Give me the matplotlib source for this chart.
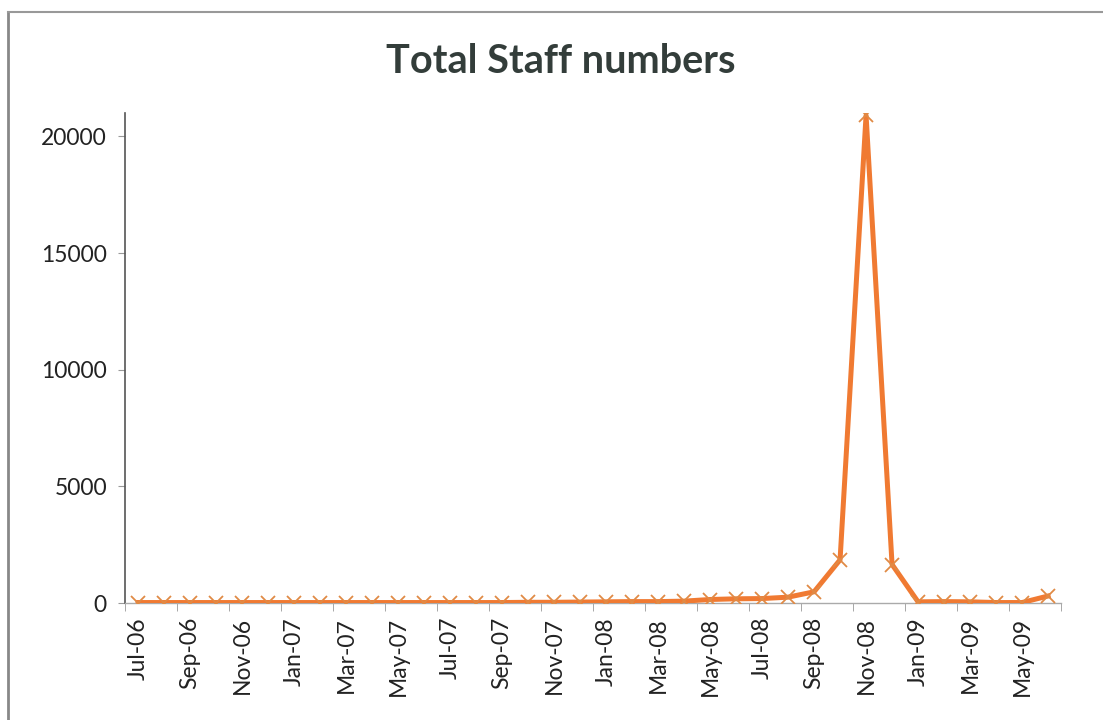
import numpy as np
import matplotlib
matplotlib.use("Agg")
import matplotlib.pyplot as plt
from matplotlib.lines import Line2D

plt.rcParams['font.family'] = ['Lato', 'DejaVu Sans']

months = ['Jul-06', 'Aug-06', 'Sep-06', 'Oct-06', 'Nov-06', 'Dec-06',
          'Jan-07', 'Feb-07', 'Mar-07', 'Apr-07', 'May-07', 'Jun-07',
          'Jul-07', 'Aug-07', 'Sep-07', 'Oct-07', 'Nov-07', 'Dec-07',
          'Jan-08', 'Feb-08', 'Mar-08', 'Apr-08', 'May-08', 'Jun-08',
          'Jul-08', 'Aug-08', 'Sep-08', 'Oct-08', 'Nov-08', 'Dec-08',
          'Jan-09', 'Feb-09', 'Mar-09', 'Apr-09', 'May-09', 'Jun-09']
staff = [20, 20, 20, 20, 20, 20,
         20, 20, 20, 20, 20, 20,
         20, 20, 20, 30, 30, 40,
         50, 60, 60, 80, 150, 180,
         190, 250, 480, 1850, 20900, 1650,
         50, 60, 50, 20, 20, 300]
yticks = [0, 5000, 10000, 15000, 20000]

fig = plt.figure(figsize=(11.03, 7.2), dpi=100)
ax = fig.add_axes([0.1133, 0.1625, 0.8487, 0.6805])

x = np.arange(len(months))
ax.plot(x, staff, color='#F07A32', lw=3.6, marker='x', markersize=10,
        markeredgecolor='#E08A45', markeredgewidth=1.3, zorder=3,
        solid_joinstyle='round')

ax.set_xlim(-0.5, len(months) - 0.5)
ax.set_ylim(0, 21000)
ax.set_yticks(yticks)
ax.set_yticklabels([str(v) for v in yticks], fontsize=16.5, color='#222222')

ax.set_xticks(x[::2])
ax.set_xticklabels(months[::2], rotation=90, fontsize=16.5, color='#222222')
ax.tick_params(axis='x', which='major', length=0, pad=10)
ax.set_xticks(np.arange(-0.5, len(months), 2), minor=True)
ax.tick_params(axis='x', which='minor', length=6, color='#999999', direction='out')
ax.tick_params(axis='y', length=5, color='#999999', pad=8)

for s in ['top', 'right']:
    ax.spines[s].set_visible(False)
ax.spines['left'].set_color('#555555')
ax.spines['left'].set_linewidth(1.2)
ax.spines['bottom'].set_color('#aaaaaa')
ax.spines['bottom'].set_linewidth(1.0)

fig.text(0.508, 0.915, 'Total Staff numbers', ha='center', va='center',
         fontsize=28.5, fontweight='bold', color='#333d3a')

# chart frame (left and top edges visible)
fig.add_artist(Line2D([0.0075, 0.0075], [0.0, 0.983], transform=fig.transFigure,
                      color='#888888', lw=2))
fig.add_artist(Line2D([0.0075, 1.0], [0.983, 0.983], transform=fig.transFigure,
                      color='#999999', lw=1.5))

fig.savefig('out.png', dpi=100)
